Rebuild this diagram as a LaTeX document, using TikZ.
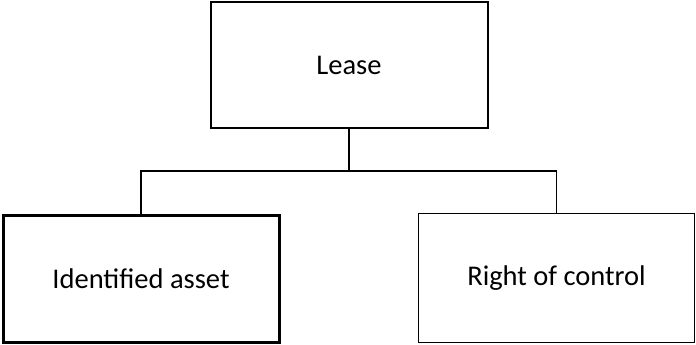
\documentclass[tikz,border=0pt]{standalone}
\usepackage{fontspec}
\setmainfont{Carlito}
\usetikzlibrary{positioning}

\begin{document}
\begin{tikzpicture}[x=1pt, y=-1pt]
		% Box style, text in the middle
		\tikzset{leasebox/.style={draw, inner sep=0pt, font=\fontsize{28.5}{34}\selectfont}}
		
		% Page frame
		\useasboundingbox (0,0) rectangle (696,345);
		
		% --- Boxes ---
		\node[leasebox, line width=2pt, minimum width=277pt, minimum height=126pt] (lease) at (349,65) {Lease};
		\node[leasebox, line width=3pt, minimum width=276pt, minimum height=127pt] (asset) at (141,279) {Identified asset};
		\node[leasebox, line width=1.4pt, minimum width=276pt, minimum height=129pt] (control) at (556.5,278) {Right of control};
		
		% --- Connectors ---
		% Branch point under the top box
		\coordinate (J) at (349,171);
		\draw[line width=1.5pt] (lease.south) -- (J);
		\draw[line width=1.5pt] (J) -| (asset.north);
		\draw[line width=1.5pt] (J) -| (control.north);
		
	\end{tikzpicture}
\end{document}
